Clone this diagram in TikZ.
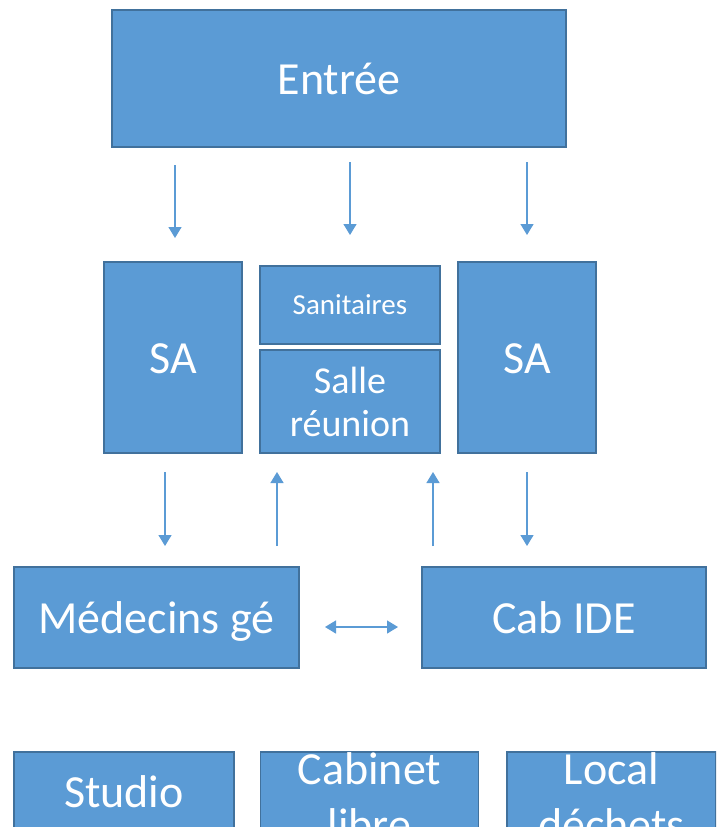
\documentclass[tikz,border=0pt]{standalone}
\usepackage{fontspec}
\setmainfont{Carlito}
\usetikzlibrary{arrows.meta}
\definecolor{boxfill}{HTML}{5B9BD5}
\definecolor{boxline}{HTML}{41719C}
\definecolor{arrowc}{HTML}{5B9BD5}
\tikzset{
  room/.style={draw=boxline, line width=1.5pt, fill=boxfill, text=white, inner sep=0pt, align=center},
  big/.style={font=\fontsize{46}{56}\selectfont},
  oneline/.style={text height=32pt, text depth=0pt},
  flow/.style={draw=arrowc, line width=1.3pt, -{Triangle[length=11pt,width=13pt]}},
  flowboth/.style={draw=arrowc, line width=1.3pt, {Triangle[length=11pt,width=13pt]}-{Triangle[length=11pt,width=13pt]}}
}
\begin{document}
\begin{tikzpicture}[x=1pt,y=-1pt]
\useasboundingbox (0,0) rectangle (716,827);
\clip (0,0) rectangle (716,827);
\fill[white] (0,0) rectangle (716,827);
% rooms
\node[room, big, oneline, minimum width=454pt, minimum height=137pt] (entree) at (339,78.5) {Entrée};
\node[room, big, oneline, minimum width=138pt, minimum height=191pt] (saL) at (173,357.5) {SA};
\node[room, font=\fontsize{29}{34}\selectfont, minimum width=180pt, minimum height=78pt] (sanit) at (350,305) {Sanitaires};
\node[room, font=\fontsize{38}{43}\selectfont, minimum width=180pt, minimum height=103pt] (salle) at (350,401.5) {Salle\\réunion};
\node[room, big, oneline, minimum width=138pt, minimum height=191pt] (saR) at (527,357.5) {SA};
\node[room, big, oneline, minimum width=285pt, minimum height=101pt] (med) at (156.5,617.5) {Médecins gé};
\node[room, big, oneline, minimum width=284pt, minimum height=101pt] (cab) at (564,617.5) {Cab IDE};
\node[room, big, text height=32pt, text depth=12pt, minimum width=220pt, minimum height=90pt] (studio) at (124,797) {Studio};
\node[room, big, minimum width=218pt, minimum height=90pt] (cablib) at (369.5,797) {Cabinet\\libre};
\node[room, big, minimum width=209pt, minimum height=90pt] (local) at (611.5,797) {Local\\déchets};
% arrow endpoints
\coordinate (a1s) at (175,165); \coordinate (a1e) at (175,238);
\coordinate (a2s) at (350,162); \coordinate (a2e) at (350,235);
\coordinate (a3s) at (527,162); \coordinate (a3e) at (527,235);
\coordinate (b1s) at (165,472); \coordinate (b1e) at (165,546);
\coordinate (b2s) at (277,546); \coordinate (b2e) at (277,472);
\coordinate (b3s) at (433,546); \coordinate (b3e) at (433,472);
\coordinate (b4s) at (527,472); \coordinate (b4e) at (527,546);
\coordinate (c1) at (325,627); \coordinate (c2) at (398,627);
\draw[flow] (a1s) -- (a1e);
\draw[flow] (a2s) -- (a2e);
\draw[flow] (a3s) -- (a3e);
\draw[flow] (b1s) -- (b1e);
\draw[flow] (b2s) -- (b2e);
\draw[flow] (b3s) -- (b3e);
\draw[flow] (b4s) -- (b4e);
\draw[flowboth] (c1) -- (c2);
\end{tikzpicture}
\end{document}
